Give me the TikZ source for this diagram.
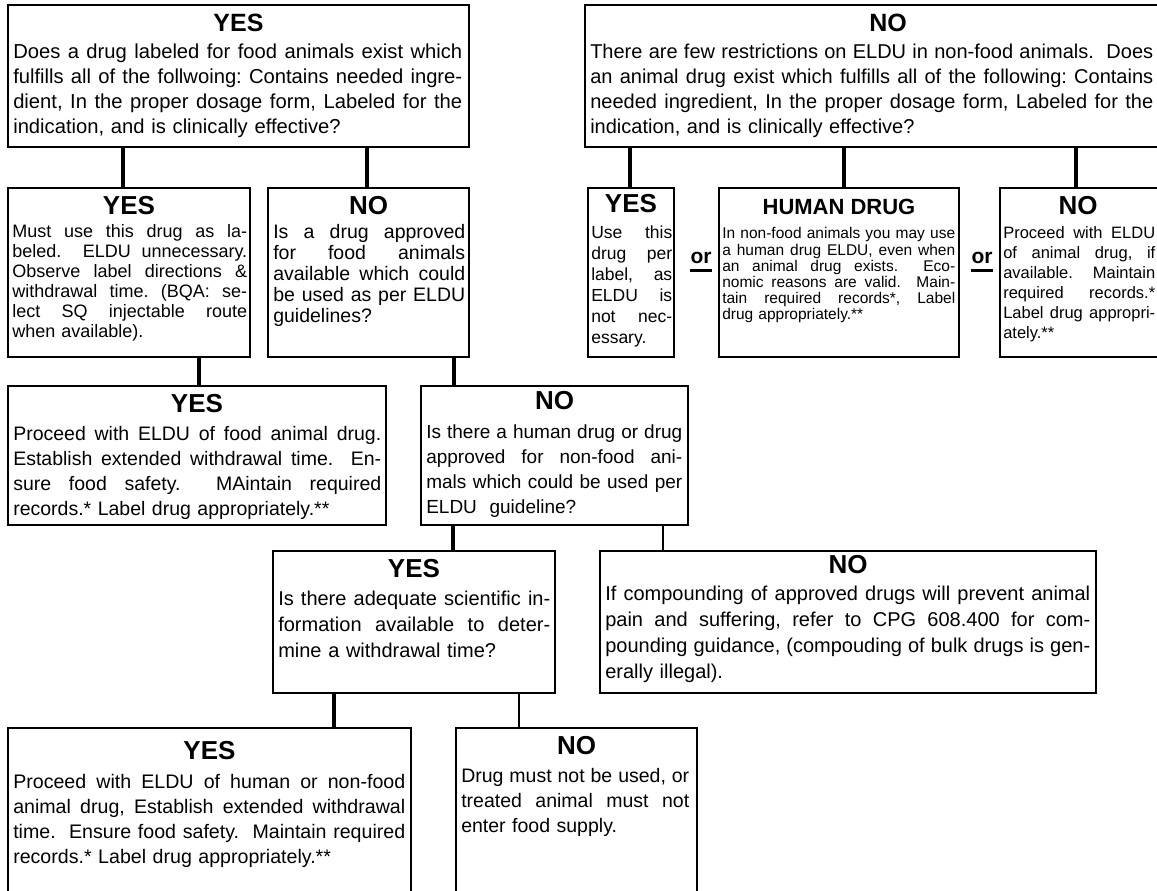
\documentclass[tikz,border=0pt]{standalone}
\usepackage{fontspec}
\setmainfont{Liberation Sans}
\def\tw{100pt}
\newcommand\jl[1]{\makebox[\tw][s]{\frenchspacing\spaceskip=.278em plus 1.5em minus .1em\relax#1}\\}
\begin{document}
\begin{tikzpicture}[x=0.75pt,y=-0.75pt,
  box/.style={draw, line width=1.875pt, inner sep=0pt, outer sep=0pt},
  thinbox/.style={draw, line width=1.5pt, inner sep=0pt, outer sep=0pt},
  head/.style={font=\bfseries\fontsize{19.5pt}{22pt}\selectfont, anchor=base, inner sep=0pt},
  body/.style={anchor=north west, inner sep=0pt, align=left},
  bw/.style={text width=#1, tw/.expanded=#1},
  tw/.code={\def\tw{#1}},
  conn/.style={line width=3pt},
  thinconn/.style={line width=1.3pt},
  orl/.style={font=\bfseries\fontsize{15.75pt}{18pt}\selectfont, anchor=base, inner sep=0pt}]
\useasboundingbox (0,0) rectangle (1157,890);
\fill[white] (0,0) rectangle (1157,890);

% boxes
\node[box, minimum width=345.75pt, minimum height=106.5pt] (b1) at (238.5,76) {};
\node[box, minimum width=453.75pt, minimum height=106.5pt] (b2) at (887.5,76) {};
\node[box, minimum width=181.5pt, minimum height=126.75pt] (b3) at (129,272.5) {};
\node[box, minimum width=150.75pt, minimum height=126.75pt] (b4) at (368.5,272.5) {};
\node[box, minimum width=64.5pt, minimum height=126.75pt] (b5) at (631,272.5) {};
\node[box, minimum width=180pt, minimum height=126.75pt] (b6) at (839,272.5) {};
\node[box, minimum width=120pt, minimum height=126.75pt] (b7) at (1080,272.5) {};
\node[box, minimum width=283.5pt, minimum height=104.25pt] (b8) at (197,455.5) {};
\node[box, minimum width=200.25pt, minimum height=104.25pt] (b9) at (554.5,455.5) {};
\node[thinbox, minimum width=211.5pt, minimum height=106.5pt] (b10) at (414,622) {};
\node[thinbox, minimum width=372pt, minimum height=106.5pt] (b11) at (848,622) {};
\node[box, minimum width=302.25pt, minimum height=129pt] (b12) at (209.5,814) {};
\node[box, minimum width=180.75pt, minimum height=129pt] (b13) at (576.5,814) {};

% headings
\node[head, font=\bfseries\fontsize{18.75pt}{22pt}\selectfont] (h1) at (238.5,31) {YES};
\node[head, font=\bfseries\fontsize{18.75pt}{22pt}\selectfont] (h2) at (888,31) {NO};
\node[head] (h3) at (129,214.3) {YES};
\node[head] (h4) at (368.5,214.3) {NO};
\node[head] (h5) at (631,212.3) {YES};
\node[head, font=\bfseries\fontsize{16.5pt}{19pt}\selectfont] (h6) at (839,214.9) {HUMAN DRUG};
\node[head] (h7) at (1078,214.3) {NO};
\node[head] (h8) at (197,412.3) {YES};
\node[head] (h9) at (554.5,409.3) {NO};
\node[head] (h10) at (414,577.3) {YES};
\node[head] (h11) at (848,573.3) {NO};
\node[head] (h12) at (209.5,759.3) {YES};
\node[head] (h13) at (576.5,754.3) {NO};

% bodies
\node[body, bw=336.75pt, font=\fontsize{15.15pt}{18.75pt}\selectfont] (t1) at (13,40.8) {\strut
\jl{Does a drug labeled for food animals exist which}
\jl{fulfills all of the follwoing: Contains needed ingre-}
\jl{dient, In the proper dosage form, Labeled for the}
indication, and is clinically effective?};

\node[body, bw=422.25pt, font=\fontsize{15pt}{18.75pt}\selectfont] (t2) at (590,40.8) {\strut
\jl{There are few restrictions on ELDU in non-food animals.\ \ Does}
\jl{an animal drug exist which fulfills all of the following: Contains}
\jl{needed ingredient, In the proper dosage form, Labeled for the}
indication, and is clinically effective?};

\node[body, bw=176.25pt, font=\fontsize{13.5pt}{15pt}\selectfont] (t3) at (12,223.7) {\strut
\jl{Must use this drug as la-}
\jl{beled.\ \ ELDU unnecessary.}
\jl{Observe label directions \&}
\jl{withdrawal time. (BQA: se-}
\jl{lect SQ injectable route}
when available).};

\node[body, bw=144pt, font=\fontsize{14.625pt}{15.75pt}\selectfont] (t4) at (273,223.3) {\strut
\jl{Is a drug approved}
\jl{for food animals}
\jl{available which could}
\jl{be used as per ELDU}
guidelines?};

\node[body, bw=60.75pt, font=\fontsize{13.125pt}{15.75pt}\selectfont] (t5) at (591,223.8) {\strut
\jl{Use this}
\jl{drug per}
\jl{label, as}
\jl{ELDU is}
\jl{not nec-}
essary.};

\node[body, bw=174.75pt, font=\fontsize{11.625pt}{12pt}\selectfont] (t6) at (722,226.8) {\strut
\jl{In non-food animals you may use}
\jl{a human drug ELDU, even when}
\jl{an animal drug exists.\ \ Eco-}
\jl{nomic reasons are valid.\ \ Main-}
\jl{tain required records*, Label}
drug appropriately.**};

\node[body, bw=114pt, font=\fontsize{12.375pt}{15pt}\selectfont] (t7) at (1003,224.3) {\strut
\jl{Proceed with ELDU}
\jl{of animal drug, if}
\jl{available. Maintain}
\jl{required records.*}
\jl{Label drug appropri-}
ately.**};

\node[body, bw=276pt, font=\fontsize{14.625pt}{18.75pt}\selectfont] (t8) at (13,422.5) {\strut
\jl{Proceed with ELDU of food animal drug.}
\jl{Establish extended withdrawal time.\ \ En-}
\jl{sure food safety.\ \ MAintain required}
records.* Label drug appropriately.**};

\node[body, bw=192pt, font=\fontsize{14.25pt}{18.75pt}\selectfont] (t9) at (426,420.4) {\strut
\jl{Is there a human drug or drug}
\jl{approved for non-food ani-}
\jl{mals which could be used per}
ELDU\ \ guideline?};

\node[body, bw=204pt, font=\fontsize{15pt}{19.5pt}\selectfont] (t10) at (278,587) {\strut
\jl{Is there adequate scientific in-}
\jl{formation available to deter-}
mine a withdrawal time?};

\node[body, bw=363.75pt, font=\fontsize{15pt}{19.5pt}\selectfont] (t11) at (605,582) {\strut
\jl{If compounding of approved drugs will prevent animal}
\jl{pain and suffering, refer to CPG 608.400 for com-}
\jl{pounding guidance, (compouding of bulk drugs is gen-}
erally illegal).};

\node[body, bw=294pt, font=\fontsize{14.7pt}{18.75pt}\selectfont] (t12) at (13,770.7) {\strut
\jl{Proceed with ELDU of human or non-food}
\jl{animal drug, Establish extended withdrawal}
\jl{time.\ \ Ensure food safety.\ \ Maintain required}
records.* Label drug appropriately.**};

\node[body, bw=171pt, font=\fontsize{14.625pt}{18.75pt}\selectfont] (t13) at (461,764.5) {\strut
\jl{Drug must not be used, or}
\jl{treated animal must not}
enter food supply.};

% "or" labels
\node[orl] (or1) at (701,263) {or};
\node[orl] (or2) at (982,263) {or};
\draw[line width=2.25pt] ([yshift=-5.5pt]or1.base west) -- ([yshift=-5.5pt]or1.base east);
\draw[line width=2.25pt] ([yshift=-5.5pt]or2.base west) -- ([yshift=-5.5pt]or2.base east);

% connectors
\draw[conn] (b1.south -| 123,0) -- (b3.north -| 123,0);
\draw[conn] (b1.south -| 367,0) -- (b4.north -| 367,0);
\draw[conn] (b2.south -| 630,0) -- (b5.north -| 630,0);
\draw[conn] (b2.south -| 844,0) -- (b6.north -| 844,0);
\draw[conn] (b2.south -| 1076,0) -- (b7.north -| 1076,0);
\draw[conn] (b3.south -| 199,0) -- (b8.north -| 199,0);
\draw[conn] (b4.south -| 454,0) -- (b9.north -| 454,0);
\draw[conn] (b9.south -| 453,0) -- (b10.north -| 453,0);
\draw[thinconn] (b9.south -| 663,0) -- (b11.north -| 663,0);
\draw[conn] (b10.south -| 334,0) -- (b12.north -| 334,0);
\draw[thinconn] (b10.south -| 519,0) -- (b13.north -| 519,0);
\end{tikzpicture}
\end{document}
